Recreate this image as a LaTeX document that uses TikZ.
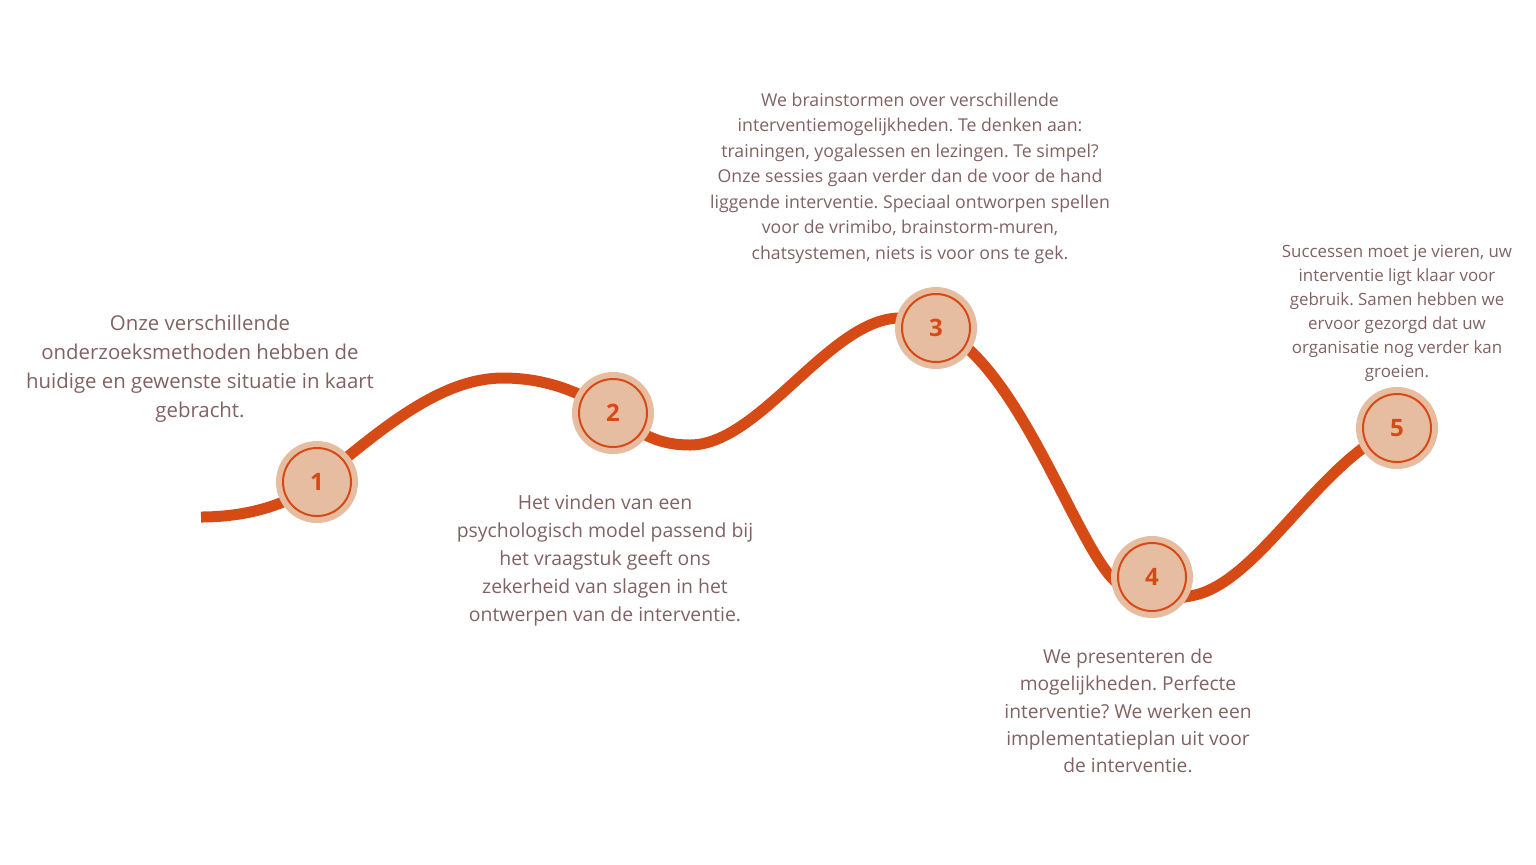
\documentclass[tikz,border=0pt]{standalone}
\usepackage{fontspec}
\setmainfont{Open Sans}
\usetikzlibrary{positioning}
\definecolor{road}{RGB}{214,74,22}
\definecolor{stop}{RGB}{230,189,161}
\definecolor{prose}{RGB}{128,98,98}
\newcommand{\fs}[2]{\fontsize{#1}{#2}\selectfont}
\frenchspacing

\begin{document}
\begin{tikzpicture}[
  x=0.5pt, y=-0.5pt,
  roadline/.style={draw=road, line width=5.5pt},
  halt/.style={circle, fill=stop, minimum size=41pt, inner sep=0pt, text=road, font=\bfseries\fs{12}{12},
    path picture={\draw[road, line width=1pt] (path picture bounding box.center) circle (17pt);}},
  note/.style={align=center, text=prose, inner sep=0pt},
]
\useasboundingbox (0,0) rectangle (1536,864);

% ---- the winding road ----
\coordinate (start) at (201,517);
\draw[roadline] (start) .. controls (240,517) and (285,508) .. (317,482)
  .. controls (380,430) and (440,378) .. (503,378)
  .. controls (550,378) and (585,395) .. (613,413)
  .. controls (640,435) and (660,445) .. (690,445)
  .. controls (760,445) and (830,318) .. (900,318)
  .. controls (915,318) and (925,320) .. (936,328)
  .. controls (1020,360) and (1080,560) .. (1120,585)
  .. controls (1150,600) and (1175,600) .. (1195,595)
  .. controls (1260,580) and (1320,460) .. (1397,428);

% ---- stops ----
\node[halt] (H1) at (317,482) {1};
\node[halt] (H2) at (613,413) {2};
\node[halt] (H3) at (936,328) {3};
\node[halt] (H4) at (1152,577) {4};
\node[halt] (H5) at (1397,428) {5};

% ---- texts ----
\node[note, font=\fs{10.2}{14.5}] (T1) at (200,369) {%
  Onze verschillende\\ onderzoeksmethoden hebben de\\ huidige en gewenste situatie in kaart\\ gebracht.};
\node[note, font=\fs{9.7}{14}] (T2) at (605,560) {%
  Het vinden van een\\ psychologisch model passend bij\\ het vraagstuk geeft ons\\ zekerheid van slagen in het\\ ontwerpen van de interventie.};
\node[note, font=\fs{8.85}{12.75}] (T3) at (910,178) {%
  We brainstormen over verschillende\\ interventiemogelijkheden. Te denken aan:\\ trainingen, yogalessen en lezingen. Te simpel?\\ Onze sessies gaan verder dan de voor de hand\\ liggende interventie. Speciaal ontworpen spellen\\ voor de vrimibo, brainstorm-muren,\\ chatsystemen, niets is voor ons te gek.};
\node[note, font=\fs{9.6}{13.6}] (T4) at (1128,711) {%
  We presenteren de\\ mogelijkheden. Perfecte\\ interventie? We werken een\\ implementatieplan uit voor\\ de interventie.};
\node[note, font=\fs{8.45}{12}] (T5) at (1397,313) {%
  Successen moet je vieren, uw\\ interventie ligt klaar voor\\ gebruik. Samen hebben we\\ ervoor gezorgd dat uw\\ organisatie nog verder kan\\ groeien.};

\end{tikzpicture}
\end{document}
